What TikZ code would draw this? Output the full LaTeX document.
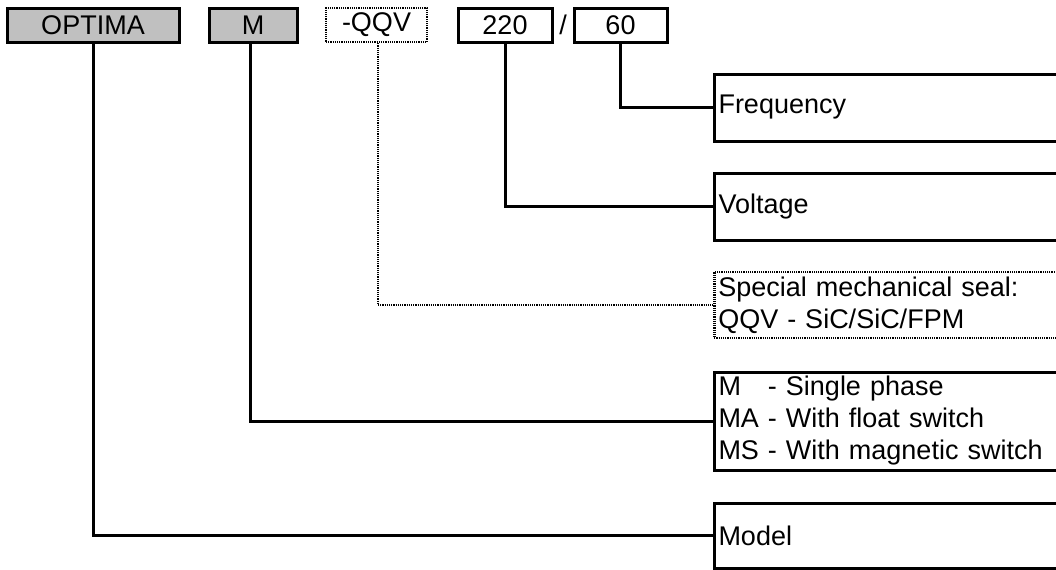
\documentclass[tikz,border=0pt]{standalone}
\usepackage{fontspec}
\setmainfont{Liberation Sans}
\usetikzlibrary{positioning}
\definecolor{keygray}{RGB}{192,192,192}

\begin{document}
\begin{tikzpicture}[x=0.5pt, y=-0.5pt,
    every node/.style={font=\fontsize{13.5}{16}\selectfont, inner sep=0pt},
    keybox/.style={draw, line width=1.5pt, minimum height=17pt},
    descbox/.style={draw, line width=1.5pt, anchor=west, minimum width=171.5pt,
      inner xsep=2pt, text width=167.5pt, align=left},
    fine/.style={line width=1.25pt, dash pattern=on 0.6pt off 0.5pt},
    link/.style={line width=1.5pt}]
  \useasboundingbox (0,0) rectangle (1056,569);
  % type code
  \node[keybox, fill=keygray, minimum width=86pt] (optima) at (93,25) {OPTIMA};
  \node[keybox, fill=keygray, minimum width=44pt] (phase) at (253,25) {M};
  \node[keybox, fine, minimum width=50.5pt] (seal) at (376.5,25) {-QQV};
  \node[keybox, minimum width=47pt] (volt) at (505,25) {220};
  \node (slash) at (563,25) {/};
  \node[keybox, minimum width=46.5pt] (freq) at (620.5,25) {60};
  % explanations
  \node[descbox, minimum height=33.5pt] (freqtext) at (713,107.5) {Frequency};
  \node[descbox, minimum height=33.5pt] (volttext) at (713,206.5) {Voltage};
  \node[descbox, fine, minimum height=33pt] (sealtext) at (713,305)
    {Special mechanical seal:\\QQV - SiC/SiC/FPM};
  \node[descbox, minimum height=49pt] (phasetext) at (713,421)
    {M\hphantom{A} - Single phase\\MA - With float switch\\MS - With magnetic switch};
  \node[descbox, minimum height=32.5pt] (modeltext) at (713,535.5) {Model};
  % connectors
  \draw[link] (freq.south) |- (freqtext.west);
  \draw[link] (volt.south) |- (volttext.west);
  \draw[link, fine] (seal.south -| 378,0) |- (sealtext.west);
  \draw[link] (phase.south -| 250,0) |- (phasetext.west);
  \draw[link] (optima.south) |- (modeltext.west);
\end{tikzpicture}
\end{document}
